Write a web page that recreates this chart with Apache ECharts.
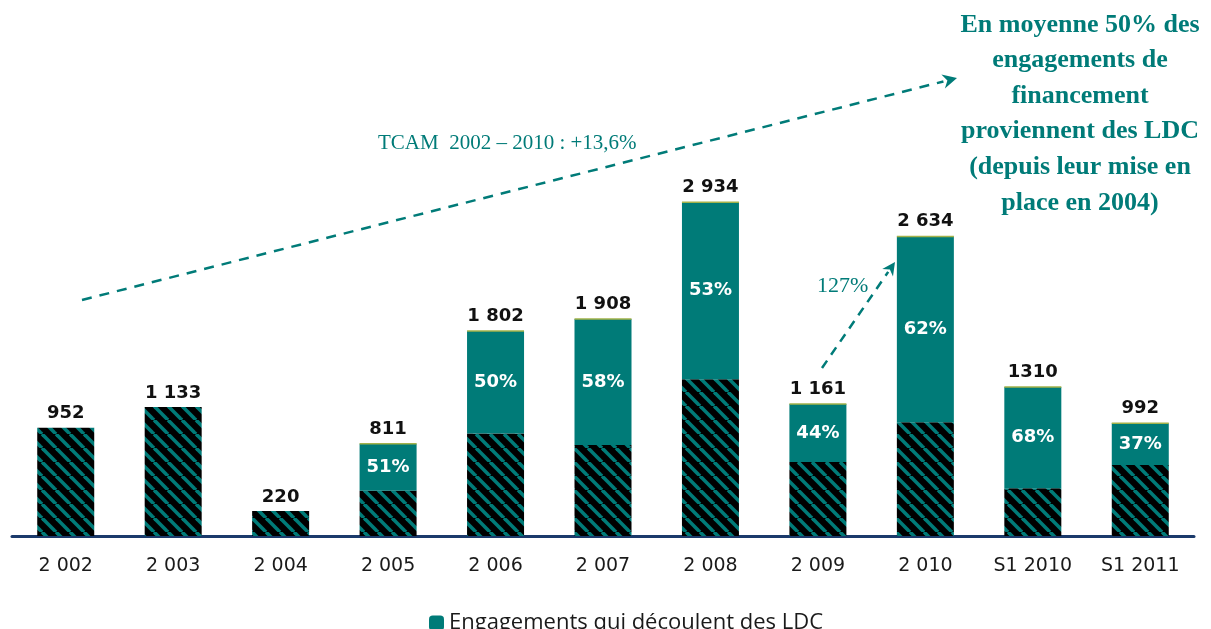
<!DOCTYPE html>
<html>
<head>
<meta charset="utf-8">
<script src="https://cdn.jsdelivr.net/npm/echarts@6/dist/echarts.min.js"></script>
<style>
html, body { margin: 0; padding: 0; background: #fff; }
#chart { width: 1211px; height: 629px; }
</style>
</head>
<body>
<div id="chart"></div>
<script>
var categories = ['2 002', '2 003', '2 004', '2 005', '2 006', '2 007', '2 008', '2 009', '2 010', 'S1 2010', 'S1 2011'];
var totals = [952, 1133, 220, 811, 1802, 1908, 2934, 1161, 2634, 1310, 992];
var totalLabels = ['952', '1 133', '220', '811', '1 802', '1 908', '2 934', '1 161', '2 634', '1310', '992'];
// part des LDC (%), null quand les LDC n'existaient pas encore
var ldcShare = [null, null, null, 51, 50, 58, 53, 44, 62, 68, 37];

var teal = '#007b78';

var ldcValues = [];
var otherValues = [];
for (var i = 0; i < totals.length; i++) {
	var ldc = ldcShare[i] == null ? 0 : Math.round(totals[i] * ldcShare[i] / 100);
	ldcValues.push(ldc);
	otherValues.push(totals[i] - ldc);
}

// motif hachuré noir / sarcelle
function hatch() {
	var s = 14;
	var c = document.createElement('canvas');
	c.width = s;
	c.height = s;
	var ctx = c.getContext('2d');
	ctx.fillStyle = '#000';
	ctx.fillRect(0, 0, s, s);
	ctx.strokeStyle = teal;
	ctx.lineWidth = 3.6;
	[-s, 0, s].forEach(function (o) {
		ctx.beginPath();
		ctx.moveTo(o, 0);
		ctx.lineTo(o + s, s);
		ctx.stroke();
	});
	return c;
}

function arrowHead(x, y, angle, size) {
	var pts = [[0, 0], [-size * 1.3, -size * 0.65], [-size * 0.9, 0], [-size * 1.3, size * 0.65]];
	return pts.map(function (p) {
		return [x + p[0] * Math.cos(angle) - p[1] * Math.sin(angle),
			y + p[0] * Math.sin(angle) + p[1] * Math.cos(angle)];
	});
}

var chart = echarts.init(document.getElementById('chart'));

var big = { x1: 82, y1: 300, x2: 957, y2: 78 };
var small = { x1: 822, y1: 368, x2: 895, y2: 262 };
var a1 = Math.atan2(big.y2 - big.y1, big.x2 - big.x1);
var a2 = Math.atan2(small.y2 - small.y1, small.x2 - small.x1);

// fin liseré vert olive en haut des barres LDC
var topData = totals.map(function (t, i) {
	return {
		value: 0,
		itemStyle: ldcShare[i] == null ? { borderWidth: 0 } : { borderWidth: 1.5, borderColor: '#a3b24a' }
	};
});

var option = {
	animation: false,
	grid: { left: 12, right: 17, top: 81, bottom: 93 },
	legend: {
		data: ['Engagements qui découlent des LDC'],
		left: 424,
		top: 607,
		itemWidth: 15,
		itemHeight: 15,
		itemGap: 6,
		textStyle: { fontFamily: 'Open Sans', fontSize: 22, color: '#1a1a1a' }
	},
	xAxis: {
		type: 'category',
		data: categories,
		axisLine: { lineStyle: { color: '#1b3a6b', width: 3 } },
		axisTick: { show: false },
		axisLabel: { fontFamily: 'DejaVu Sans', fontSize: 19, color: '#1a1a1a', margin: 21 }
	},
	yAxis: {
		type: 'value',
		min: 0,
		max: 4000,
		show: false,
		splitLine: { show: false }
	},
	series: [
		{
			name: 'Engagements hors LDC',
			type: 'bar',
			stack: 'total',
			barWidth: 57,
			data: otherValues,
			itemStyle: { color: { image: hatch(), repeat: 'repeat' } }
		},
		{
			name: 'Engagements qui découlent des LDC',
			type: 'bar',
			stack: 'total',
			data: ldcValues,
			itemStyle: { color: teal },
			label: {
				show: true,
				position: 'inside',
				color: '#fff',
				fontFamily: 'DejaVu Sans',
				fontWeight: 'bold',
				fontSize: 18,
				formatter: function (p) {
					return ldcShare[p.dataIndex] == null ? '' : ldcShare[p.dataIndex] + '%';
				}
			}
		},
		{
			name: 'Total',
			type: 'bar',
			stack: 'total',
			data: topData,
			itemStyle: { color: '#a3b24a' },
			label: {
				show: true,
				position: 'top',
				distance: 5,
				color: '#111',
				fontFamily: 'DejaVu Sans',
				fontWeight: 'bold',
				fontSize: 18,
				formatter: function (p) { return totalLabels[p.dataIndex]; }
			}
		}
	],
	graphic: [
		{
			type: 'line',
			shape: { x1: big.x1, y1: big.y1, x2: big.x2 - 14 * Math.cos(a1), y2: big.y2 - 14 * Math.sin(a1) },
			style: { stroke: teal, lineWidth: 2.5, lineDash: [10, 8] }
		},
		{
			type: 'polygon',
			shape: { points: arrowHead(big.x2, big.y2, a1, 11) },
			style: { fill: teal }
		},
		{
			type: 'line',
			shape: { x1: small.x1, y1: small.y1, x2: small.x2 - 12 * Math.cos(a2), y2: small.y2 - 12 * Math.sin(a2) },
			style: { stroke: teal, lineWidth: 2.5, lineDash: [9, 7] }
		},
		{
			type: 'polygon',
			shape: { points: arrowHead(small.x2, small.y2, a2, 10) },
			style: { fill: teal }
		},
		{
			type: 'text',
			left: 378,
			top: 133,
			style: { text: 'TCAM  2002 – 2010 : +13,6%', fill: teal, font: '21px "Liberation Serif"' }
		},
		{
			type: 'text',
			left: 817,
			top: 275,
			style: { text: '127%', fill: teal, font: '22px "Liberation Serif"' }
		},
		{
			type: 'text',
			x: 1080,
			y: 7,
			style: {
				text: 'En moyenne 50% des\nengagements de\nfinancement\nproviennent des LDC\n(depuis leur mise en\nplace en 2004)',
				fill: teal,
				font: 'bold 26px "Liberation Serif"',
				align: 'center',
				lineHeight: 35.6
			}
		}
	]
};

chart.setOption(option);
window.addEventListener('resize', function () {
	chart.resize();
});
</script>
</body>
</html>
